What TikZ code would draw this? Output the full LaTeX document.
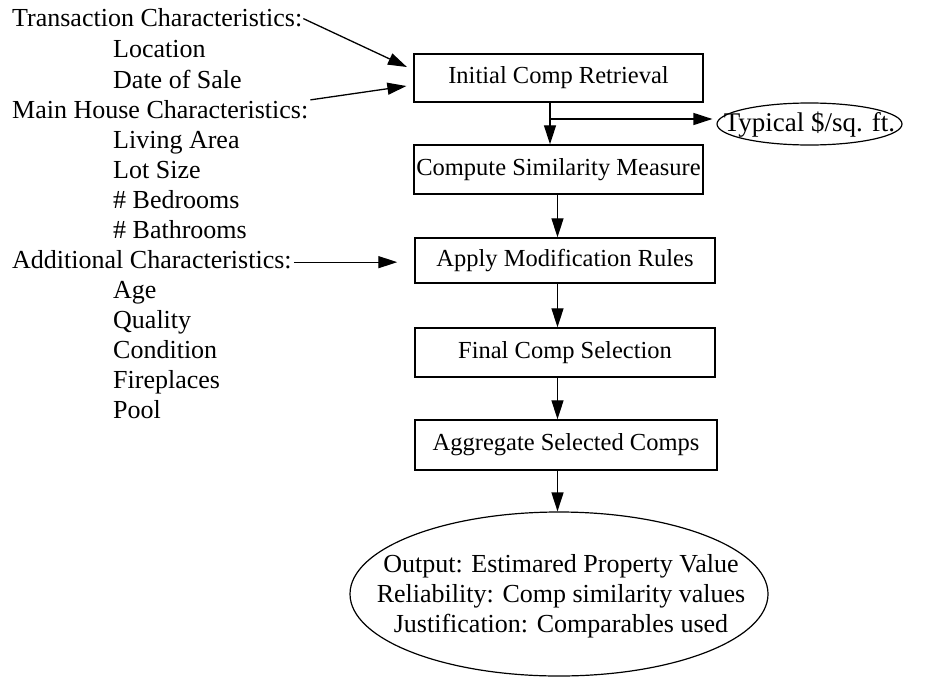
\documentclass[tikz,border=0pt]{standalone}
\usepackage{fontspec}
\setmainfont{Liberation Serif}
\usetikzlibrary{arrows.meta,shapes.geometric,calc}

\tikzset{
  lbl/.style={anchor=base west, inner sep=0pt, font=\fontsize{26}{30}\selectfont},
  stage/.style={draw, line width=1.4pt, inner sep=0pt, font=\fontsize{24.5}{30}\selectfont},
  oval/.style={draw, ellipse, line width=1.2pt, inner sep=0pt},
  ovaltext/.style={inner sep=0pt, align=center, font=\fontsize{26}{30}\selectfont},
  arr/.style={line width=1.3pt, -{Triangle[length=19pt,width=12pt]}}
}

\begin{document}
\begin{tikzpicture}[x=1pt,y=-1pt]
\useasboundingbox (0,0) rectangle (925,677);

% input characteristics, listed on the left
\node[lbl] (tc)   at (12,27)   {Transaction Characteristics:};
\node[lbl] (loc)  at (113,58)  {Location};
\node[lbl] (dos)  at (113,88)  {Date of Sale};
\node[lbl] (mh)   at (12,118)  {Main House Characteristics:};
\node[lbl] (la)   at (113,148) {Living Area};
\node[lbl] (ls)   at (113,178) {Lot Size};
\node[lbl] (bed)  at (113,208) {\# Bedrooms};
\node[lbl] (bath) at (113,238) {\# Bathrooms};
\node[lbl] (ac)   at (12,268)  {Additional Characteristics:};
\node[lbl] (age)  at (113,298) {Age};
\node[lbl] (qual) at (113,328) {Quality};
\node[lbl] (cond) at (113,358) {Condition};
\node[lbl] (fire) at (113,388) {Fireplaces};
\node[lbl] (pool) at (113,418) {Pool};

% processing stages
\node[stage, minimum width=289pt, minimum height=48pt] (init)  at (558.5,78)   {Initial Comp Retrieval};
\node[stage, minimum width=289pt, minimum height=49pt] (comp)  at (558.5,169.5) {Compute Similarity Measure};
\node[stage, minimum width=300pt, minimum height=45pt] (apply) at (565,260.5)  {Apply Modification Rules};
\node[stage, minimum width=300pt, minimum height=49pt] (final) at (565,352.5)  {Final Comp Selection};
\node[stage, minimum width=302pt, minimum height=50pt] (agg)   at (566,445)    {Aggregate Selected Comps};

% side output and final output
\node[oval, minimum width=185pt, minimum height=42pt] (typ) at (809.5,124) {};
\node[ovaltext, font=\fontsize{27}{30}\selectfont] (typtext) at (809.5,125) {Typical \$/sq. ft.};
\node[oval, minimum width=418pt, minimum height=164pt] (out) at (559,594) {};
\node[ovaltext] (outtext) at (561,596) {Output: Estimared Property Value\\Reliability: Comp similarity values\\Justification: Comparables used};

% flow axes and branch point
\coordinate (v1) at (550,0);
\coordinate (v2) at (557.5,0);
\coordinate (br) at (550,119);

% inputs into the stages
\draw[arr, shorten <=1pt, shorten >=7pt] (tc.east) -- ([yshift=8pt]init.west);
\draw[arr, shorten <=2pt, shorten >=7pt] ([yshift=9pt]mh.east) -- ([yshift=-7pt]init.west);
\draw[arr, shorten <=2pt, shorten >=17pt] ([yshift=-3pt]ac.east) -- ([yshift=-3pt]ac.east -| apply.west);

% main flow
\draw[arr] (init.south -| v1) -- (comp.north -| v1);
\draw[arr] (br) -- ([xshift=-4pt]br -| typ.west);
\draw[arr] (comp.south -| v2) -- (apply.north -| v2);
\draw[arr] (apply.south -| v2) -- (final.north -| v2);
\draw[arr] (final.south -| v2) -- (agg.north -| v2);
\draw[arr] (agg.south -| v2) -- (out.north -| v2);
\end{tikzpicture}
\end{document}
